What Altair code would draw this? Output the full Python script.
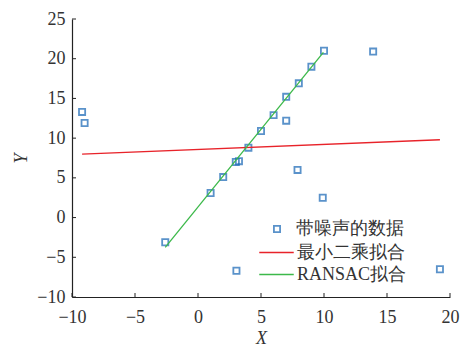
import altair as alt
import pandas as pd

# noisy data points
px = [-9.2, -9.0, -2.6, 1.0, 2.0, 3.0, 3.25, 4.0, 5.0, 6.0, 7.0, 7.0, 8.0, 9.0, 10.0, 13.9, 7.9, 9.9, 3.05, 19.2]
py = [13.3, 11.9, -3.1, 3.1, 5.1, 7.0, 7.1, 8.8, 10.9, 12.9, 15.2, 12.2, 16.9, 19.0, 21.0, 20.9, 6.0, 2.5, -6.7, -6.5]

# fitted lines (endpoints)
ls_x = [-9.2, 19.2]
ls_y = [8.0, 9.8]
ransac_x = [-2.6, 9.95]
ransac_y = [-3.75, 20.8]

x_ticks = [-10, -5, 0, 5, 10, 15, 20]
y_ticks = [-10, -5, 0, 5, 10, 15, 20, 25]

pt_label = "带噪声的数据"
ls_label = "最小二乘拟合"
rs_label = "RANSAC拟合"

pts = pd.DataFrame({"x": px, "y": py, "label": pt_label})
lines = pd.DataFrame({
    "x": ls_x + ransac_x,
    "y": ls_y + ransac_y,
    "label": [ls_label] * 2 + [rs_label] * 2,
})
xt = pd.DataFrame({"x": x_ticks})
yt = pd.DataFrame({"y": y_ticks})

FONT = "Times New Roman"
H = 278

xs = alt.Scale(domain=[-10, 20], nice=False, zero=False)
ys = alt.Scale(domain=[-10, 25], nice=False, zero=False)

xax = alt.Axis(values=x_ticks, grid=False, ticks=False, labelPadding=11, labelFlush=False, labelOverlap=False,
               labelFont=FONT, labelFontSize=18, labelColor="#333",
               title="X", titleFontStyle="italic", titleFontWeight="normal", titleFont=FONT,
               titleFontSize=18, titlePadding=3, titleColor="#333")
yax = alt.Axis(values=y_ticks, grid=False, ticks=False, labelPadding=7, labelFlush=False, labelOverlap=False,
               labelFont=FONT, labelFontSize=18, labelColor="#333",
               title="Y", titleFontStyle="italic", titleFontWeight="normal", titleFont=FONT,
               titleFontSize=18, titlePadding=6, titleColor="#333")

points = alt.Chart(pts).mark_point(shape="square", filled=False, size=38, strokeWidth=1.8).encode(
    x=alt.X("x:Q", scale=xs, axis=xax),
    y=alt.Y("y:Q", scale=ys, axis=yax),
    color=alt.Color("label:N", scale=alt.Scale(domain=[pt_label], range=["#1565b5"]),
                    legend=alt.Legend(title=None, orient="none", legendX=196, legendY=201,
                                      symbolType="square", symbolSize=38, symbolStrokeWidth=1.8,
                                      labelFont=FONT, labelFontSize=18, labelColor="#333",
                                      labelOffset=10, symbolOffset=0)),
)

fit = alt.Chart(lines).mark_line(strokeWidth=1.3).encode(
    x=alt.X("x:Q", scale=xs, axis=xax),
    y=alt.Y("y:Q", scale=ys, axis=yax),
    detail="label:N",
    stroke=alt.Stroke("label:N", scale=alt.Scale(domain=[ls_label, rs_label], range=["#e8232a", "#3cb94a"]),
                      legend=alt.Legend(title=None, orient="none", legendX=192, legendY=221,
                                        symbolType="M-1.5,0H1.5", symbolSize=529, symbolStrokeWidth=1.5,
                                        labelFont=FONT, labelFontSize=18, labelColor="#333",
                                        labelOffset=8, rowPadding=0)),
)

xtick = alt.Chart(xt).mark_rule(color="#222", strokeWidth=1).encode(
    x=alt.X("x:Q", scale=xs, axis=xax), y=alt.value(H), y2=alt.value(H - 4))
ytick = alt.Chart(yt).mark_rule(color="#222", strokeWidth=1).encode(
    y=alt.Y("y:Q", scale=ys, axis=yax), x=alt.value(0), x2=alt.value(4))

chart = alt.layer(points, fit, xtick, ytick).resolve_scale(color="independent", stroke="independent").properties(
    width=378, height=H,
    autosize=alt.AutoSizeParams(type="none"),
    padding={"left": 72, "top": 19, "right": 13, "bottom": 50},
).configure_view(stroke=None).configure_axis(
    domainColor="#222", domainWidth=1.2,
)

chart.save("out.html", embed_options={"renderer": "svg", "actions": False})
